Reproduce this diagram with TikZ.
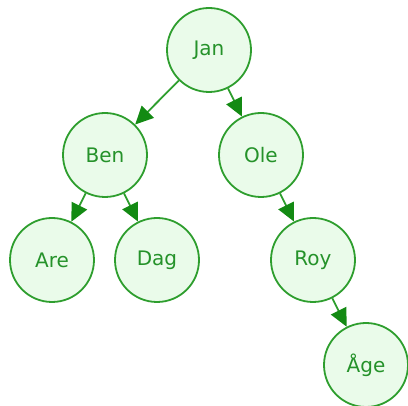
\documentclass[tikz,border=0pt]{standalone}
\usepackage{fontspec}
\setmainfont{DejaVu Sans}
\usetikzlibrary{arrows.meta}
\definecolor{edgegreen}{HTML}{2E9E2E}
\definecolor{tipgreen}{HTML}{138A13}
\definecolor{fillgreen}{HTML}{EAFBEA}
\definecolor{textgreen}{HTML}{25922A}
\begin{document}
\begin{tikzpicture}[x=1pt,y=-1pt,
  tnode/.style={circle,draw=edgegreen,fill=fillgreen,line width=1.8pt,minimum size=84pt,inner sep=0pt,text=textgreen,font=\fontsize{20}{24}\selectfont},
  tedge/.style={draw=edgegreen,line width=1.8pt,-{Triangle[length=18pt,width=17pt,color=tipgreen]}}]
\useasboundingbox (0,0) rectangle (408,406);
\node[tnode] (jan) at (209,50) {Jan};
\node[tnode] (ben) at (105,155) {Ben};
\node[tnode] (ole) at (261,155) {Ole};
\node[tnode] (are) at (52,260) {Are};
\node[tnode] (dag) at (157,260) {Dag};
\node[tnode] (roy) at (313,260) {Roy};
\node[tnode] (age) at (366,365) {Åge};
\draw[tedge] (jan) -- (ben);
\draw[tedge] (jan) -- (ole);
\draw[tedge] (ben) -- (are);
\draw[tedge] (ben) -- (dag);
\draw[tedge] (ole) -- (roy);
\draw[tedge] (roy) -- (age);
\end{tikzpicture}
\end{document}
